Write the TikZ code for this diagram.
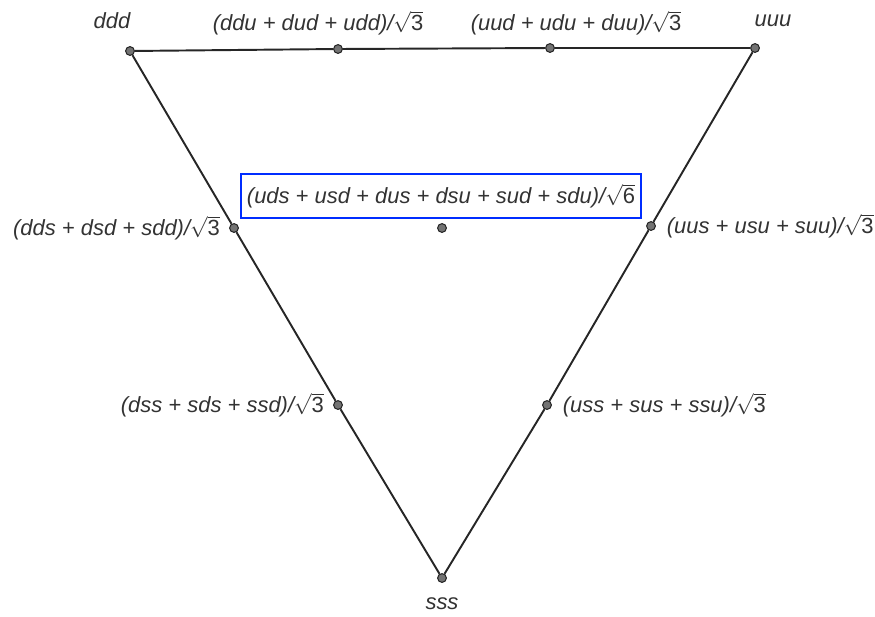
\documentclass[tikz,border=0pt]{standalone}
\usepackage{amsmath}
\usepackage{fontspec}
\setsansfont{Liberation Sans}
\usepackage{tikz}
\usetikzlibrary{
    positioning,
    calc
}
\tikzset{
  qdot/.style   = {circle, draw=black!85, fill=black!55, line width=0.6pt,
                   inner sep=0pt, minimum size=5pt},
  qlabel/.style = {font=\sffamily\itshape\fontsize{12.5}{14}\selectfont,
                   inner sep=1pt, text=black!80},
  side/.style   = {line width=1.1pt, black!85},
  hilite/.style = {draw=boBlue, line width=1.6pt, minimum width=8cm,
                   minimum height=0.88cm}
}
\definecolor{boBlue}{RGB}{0,45,255}
\newcommand{\rtthree}{/$\sqrt{\textup{3}}$}

\begin{document}
\begin{tikzpicture}[x=0.02cm, y=-0.02cm]
\useasboundingbox (0,0) rectangle (875,616);
% corners
\node[qdot] (ddd) at (130,51)  {};
\node[qdot] (uuu) at (755,48)  {};
\node[qdot] (sss) at (442,578) {};
% points on the sides
\node[qdot] (ddu) at (338,49)  {};
\node[qdot] (uud) at (550,48)  {};
\node[qdot] (dds) at (234,228) {};
\node[qdot] (dss) at (338,405) {};
\node[qdot] (uus) at (651,226) {};
\node[qdot] (uss) at (547,405) {};
\node[qdot] (uds) at (442,228) {};
% sides
\draw[side] (ddd) -- (ddu) -- (uud) -- (uuu);
\draw[side] (ddd) -- (dds) -- (dss) -- (sss);
\draw[side] (uuu) -- (uus) -- (uss) -- (sss);
% labels
\node[qlabel] (lddd) at (112,21)  {ddd};
\node[qlabel] (luuu) at (773,21)  {uuu};
\node[qlabel] (lsss) at (442,604) {sss};
\node[qlabel] (lddu) at (318,23)  {(ddu + dud + udd)\rtthree};
\node[qlabel] (luud) at (576,23)  {(uud + udu + duu)\rtthree};
\node[qlabel, left=4pt of dds]  (ldds) {(dds + dsd + sdd)\rtthree};
\node[qlabel, left=4pt of dss]  (ldss) {(dss + sds + ssd)\rtthree};
\node[qlabel, right=5pt of uus] (luus) {(uus + usu + suu)\rtthree};
\node[qlabel, right=5pt of uss] (luss) {(uss + sus + ssu)\rtthree};
\node[qlabel, hilite] (luds) at (441,196)
    {(uds + usd + dus + dsu + sud + sdu)/$\sqrt{\textup{6}}$};
\end{tikzpicture}
\end{document}
